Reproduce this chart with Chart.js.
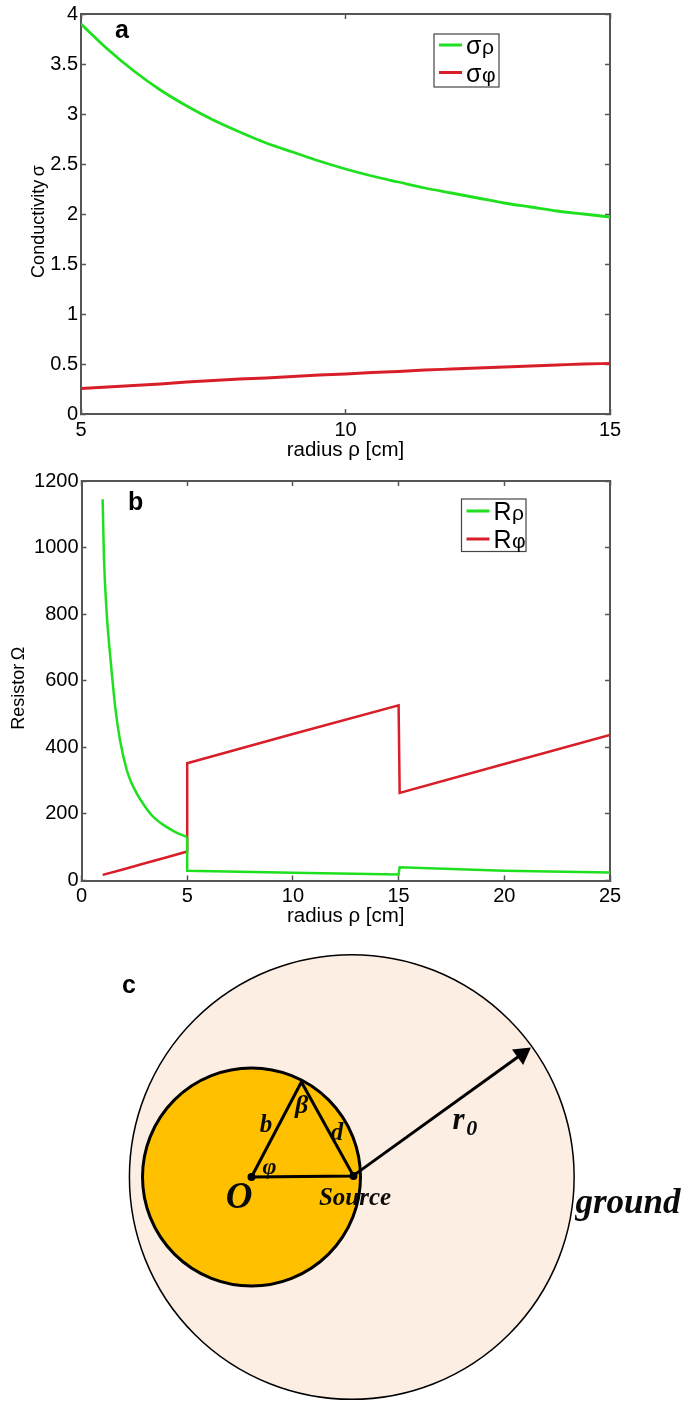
<!DOCTYPE html>
<html><head><meta charset="utf-8">
<script src="https://cdn.jsdelivr.net/npm/chart.js@4/dist/chart.umd.min.js"></script>
<style>html,body{margin:0;padding:0;background:#fff}canvas{position:absolute;left:0;display:block}</style>
</head><body>
<canvas id="a" width="685" height="470" style="top:0"></canvas>
<canvas id="b" width="685" height="470" style="top:470px"></canvas>
<canvas id="c" width="685" height="465" style="top:940px"></canvas>
<script>
// Panel a
const radiusA = [5,5.5,6,6.5,7,7.5,8,8.5,9,9.5,10,10.5,11,11.5,12,12.5,13,13.5,14,14.5,15];
const sigmaRho = [3.90,3.65,3.43,3.24,3.08,2.94,2.82,2.71,2.62,2.53,2.45,2.38,2.32,2.26,2.21,2.16,2.11,2.07,2.03,2.00,1.97];
const sigmaPhi = [.255,.27,.285,.30,.32,.335,.35,.36,.375,.39,.40,.415,.425,.44,.45,.46,.47,.48,.49,.50,.505];
// Panel b
const radiusRhoInner = [1,1.06,1.19,1.32,1.46,1.615,1.82,2.14,2.35,2.61,2.9,3.24,3.5,3.87,4.4,5];
const rRhoInner = [1145,975,805,700,605,510,422,332,295,262,232,202,185,167,147,130];
const radiusRhoOuter = [5,5,10,15,15.05,20,25];
const rRhoOuter = [130,29,23,18,40,29,24];
const radiusPhiB = [1,2,3,4,5,5,10,15,15.05,20,25];
const rPhi = [17,34,52,69,87,352,440,526,263,350,437];
// Panel c (disk radius = 5 units, O at the origin)
const outerDisk = [{x:4.6,y:0}], outerRadius = [10.2];
const innerDisk = [{x:0,y:0}], innerRadius = [5];
const triangle = [{x:0,y:0},{x:4.68,y:0.05},{x:2.29,y:4.36},{x:0,y:0}];
const radiusArrow = [{x:4.75,y:0.12},{x:12.41,y:5.64}];
const arrowHead = [{x:12.41,y:5.64}];
const dots = [{x:0,y:0},{x:4.68,y:0.05}];
const diagramLabels = [
 {t:'O',x:-0.57,y:-1.0,s:37},{t:'Source',x:4.75,y:-1.0,s:25},{t:'ground',x:17.27,y:-1.24,s:35},
 {t:'r',x:9.5,y:2.55,s:31},{t:'0',x:10.1,y:2.2,s:22},{t:'b',x:0.67,y:2.35,s:25},{t:'d',x:3.92,y:2.0,s:25},
 {t:'\u03B2',x:2.3,y:3.25,s:26},{t:'\u03C6',x:0.83,y:0.42,s:24}
];

const SANS='"Liberation Sans", Arial, sans-serif', SERIF='"Liberation Serif", "Times New Roman", serif';
const AXIS='#555', GREEN='#1fe01f', RED='#d81e28';

const panelPlugin = {
 id:'panel',
 afterDraw(chart,_,o){
  const c=chart.ctx; c.save(); c.fillStyle='#000'; c.textBaseline='alphabetic'; c.textAlign='left';
  c.font='bold 25px '+SANS; c.fillText(o.letter,o.lx,o.ly);
  if(o.box){
   const b=o.box; c.strokeStyle='#444'; c.lineWidth=1.2; c.strokeRect(b.x,b.y,b.w,b.h);
   chart.data.datasets.filter(d=>d.label).forEach((d,i)=>{
    const y=b.rows[i];
    c.strokeStyle=d.borderColor; c.lineWidth=3; c.beginPath(); c.moveTo(b.x+5,y); c.lineTo(b.x+28,y); c.stroke();
    c.fillStyle='#000'; c.font=b.big+'px '+SANS; c.fillText(d.label[0],b.x+32,y+b.dy);
    const w=c.measureText(d.label[0]).width;
    c.font='21px '+SANS; c.fillText(d.label.slice(1),b.x+32+w+0.5,y+b.dy);
   });
  }
  c.restore();
 }
};

function pairs(xs,ys){return xs.map((x,i)=>({x,y:ys[i]}));}
function lineChart(id,cfg){
 const common={grid:{drawOnChartArea:false,tickLength:-5,tickColor:AXIS,tickWidth:1.5},border:{color:AXIS,width:2}};
 new Chart(document.getElementById(id),{
  type:'scatter',
  data:{datasets:cfg.series.map(s=>({label:s.label,data:s.data,showLine:true,borderColor:s.color,backgroundColor:s.color,borderWidth:cfg.lw,pointRadius:0,
    ...(s.smooth?{cubicInterpolationMode:'monotone'}:{tension:0})}))},
  plugins:[panelPlugin],
  options:{
   responsive:false,animation:false,devicePixelRatio:1,
   layout:{autoPadding:false,padding:{top:cfg.top,right:75,left:0,bottom:0}},
   plugins:{legend:{display:false},tooltip:{enabled:false},panel:cfg.panel},
   scales:{
    x:{type:'linear',position:'bottom',min:cfg.xr[0],max:cfg.xr[1],...common,
       afterFit(s){s.height=cfg.xh;s.paddingLeft=0;s.paddingRight=0;},
       ticks:{stepSize:cfg.xs,autoSkip:false,maxRotation:0,padding:cfg.xpad,color:'#000',font:{family:SANS,size:20},callback:v=>String(v)},
       title:{display:true,text:'radius \u03C1 [cm]',color:'#000',font:{family:SANS,size:20.5},padding:{top:0,bottom:cfg.xtb}}},
    y:{type:'linear',position:'left',min:cfg.yr[0],max:cfg.yr[1],...common,
       afterFit(s){s.width=cfg.yw;s.paddingTop=0;s.paddingBottom=0;},
       ticks:{stepSize:cfg.ys,autoSkip:false,padding:8,color:'#000',font:{family:SANS,size:20},callback:v=>String(v)},
       title:{display:true,text:cfg.ytitle,color:'#000',font:{family:SANS,size:18},padding:{top:cfg.ytp,bottom:cfg.ytp}}},
    x2:{type:'linear',axis:'x',position:'top',min:cfg.xr[0],max:cfg.xr[1],...common,afterFit(s){s.height=0;},ticks:{stepSize:cfg.xs,display:false}},
    y2:{type:'linear',axis:'y',position:'right',min:cfg.yr[0],max:cfg.yr[1],...common,afterFit(s){s.width=0;},ticks:{stepSize:cfg.ys,display:false}}
   }
  }
 });
}

const TAIL='\u00A0\u00A0\u00A0';
lineChart('a',{
 series:[{label:'\u03C3\u03C1',data:pairs(radiusA,sigmaRho),color:GREEN,smooth:true},{label:'\u03C3\u03C6',data:pairs(radiusA,sigmaPhi),color:RED,smooth:true}],
 lw:2.8,top:14,xr:[5,15],yr:[0,4],xs:5,ys:0.5,xh:56,yw:81,xpad:9,xtb:7,ytp:28,ytitle:'Conductivity\u2009\u03C3'+TAIL,
 panel:{letter:'a',lx:115,ly:38,box:{x:434,y:34,w:65,h:53,rows:[45,72.5],dy:9,big:25}}
});
lineChart('b',{
 series:[{label:'R\u03C1',data:pairs(radiusRhoInner,rRhoInner),color:GREEN,smooth:true},
         {label:'',data:pairs(radiusRhoOuter,rRhoOuter),color:GREEN},
         {label:'R\u03C6',data:pairs(radiusPhiB,rPhi),color:RED}],
 lw:2.5,top:11,xr:[0,25],yr:[0,1200],xs:5,ys:200,xh:59.5,yw:81.5,xpad:9,xtb:11,ytp:8,ytitle:'Resistor\u2009\u03A9'+TAIL,
 panel:{letter:'b',lx:128,ly:40,box:{x:461.5,y:29,w:64.5,h:52.5,rows:[41,69],dy:9,big:25}}
});

// Panel c: 21.8 px per unit
const U=21.8;
const labelPlugin={id:'labels',afterDraw(chart){
 const c=chart.ctx,X=chart.scales.x,Y=chart.scales.y; c.save(); c.fillStyle='#0a0a0a'; c.textAlign='center'; c.textBaseline='middle';
 diagramLabels.forEach(l=>{c.font='italic bold '+l.s+'px '+SERIF; c.fillText(l.t,X.getPixelForValue(l.x),Y.getPixelForValue(l.y));});
 c.textAlign='left'; c.textBaseline='alphabetic'; c.fillStyle='#000'; c.font='bold 25px '+SANS; c.fillText('c',122,53);
 c.restore();
}};
const scaled=r=>ctx=>{const x=ctx.chart.scales.x;return x.getPixelForValue(r)-x.getPixelForValue(0);};
new Chart(document.getElementById('c'),{
 type:'scatter',
 data:{datasets:[
  {label:'source dots',data:dots,pointRadius:4,backgroundColor:'#000',borderWidth:0,order:1},
  {label:'arrow head',data:arrowHead,pointStyle:'triangle',rotation:54,pointRadius:11,backgroundColor:'#000',borderWidth:0,order:2},
  {label:'r0',data:radiusArrow,showLine:true,borderColor:'#000',borderWidth:3,pointRadius:0,order:3},
  {label:'triangle',data:triangle,showLine:true,borderColor:'#000',borderWidth:3,pointRadius:0,order:4},
  {label:'inner disk',data:innerDisk,pointRadius:scaled(innerRadius[0]),backgroundColor:'#ffc000',borderColor:'#000',borderWidth:3,order:5},
  {label:'ground',data:outerDisk,pointRadius:scaled(outerRadius[0]),backgroundColor:'#fdeee4',borderColor:'#000',borderWidth:1.5,order:6}
 ]},
 plugins:[labelPlugin],
 options:{
  responsive:false,animation:false,devicePixelRatio:1,layout:{autoPadding:false,padding:0},
  plugins:{legend:{display:false},tooltip:{enabled:false}},
  scales:{
   x:{type:'linear',display:false,min:-251.5/U,max:(685-251.5)/U},
   y:{type:'linear',display:false,min:-(1405-1177)/U,max:(1177-940)/U}
  }
 }
});
</script>
</body></html>
